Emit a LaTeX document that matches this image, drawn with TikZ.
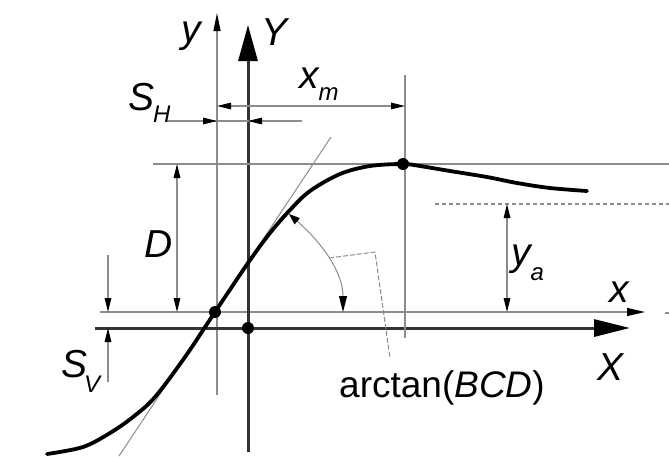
\documentclass[tikz,border=0pt]{standalone}
\usepackage{fontspec}
\setmainfont{Liberation Sans}
\usetikzlibrary{arrows.meta}
\definecolor{linegray}{HTML}{8C8C8C}
\definecolor{axisdark}{HTML}{333333}
\newcommand{\lblfont}{\fontsize{39}{40}\selectfont\itshape}
\newcommand{\subfont}{\fontsize{24}{25}\selectfont\itshape}
\tikzset{
  thin/.style={draw=linegray, line width=1.3pt},
  dimarrow/.style={thin, -{Triangle[length=14pt,width=6.5pt,color=black,fill=black]}},
  dimboth/.style={thin, {Triangle[length=14pt,width=6.5pt,color=black,fill=black]}-{Triangle[length=14pt,width=6.5pt,color=black,fill=black]}},
  lbl/.style={anchor=base west, inner sep=0pt, outer sep=0pt, font=\lblfont},
  dot/.style={circle, fill=black, inner sep=0pt, minimum size=12pt},
}
\begin{document}
\begin{tikzpicture}[x=1pt,y=-1pt]
\useasboundingbox (0,0) rectangle (669,456);
\clip (0,0) rectangle (669,456);
% key coordinates
\coordinate (zero) at (215,312);
\coordinate (orig) at (248,328);
\coordinate (peak) at (403,164);
% thin axes
\coordinate (ytop) at (217,13);
\coordinate (ybot) at (217,395);
\coordinate (xleft) at (100,312);
\coordinate (xright) at (645,312);
\draw[thin, -{Triangle[length=18pt,width=7pt,color=black,fill=black]}] (ybot) -- (ytop);
\draw[thin, -{Triangle[length=18pt,width=8pt,color=black,fill=black]}] (xleft) -- (xright);
\coordinate (dashA) at (665,313);
\coordinate (dashB) at (669,313);
\draw[thin] (dashA) -- (dashB);
% thick axes
\coordinate (Ytop) at (248,25);
\coordinate (Ybot) at (248,452);
\coordinate (Xleft) at (95,328);
\coordinate (Xright) at (630,328);
\draw[draw=axisdark, line width=3pt, -{Triangle[length=36pt,width=19pt,color=black,fill=black]}] (Ybot) -- (Ytop);
\draw[draw=axisdark, line width=3pt, -{Triangle[length=36pt,width=17pt,color=black,fill=black]}] (Xleft) -- (Xright);
% extension lines
\coordinate (peakL) at (153,164);
\coordinate (peakR) at (669,164);
\draw[thin] (peakL) -- (peakR);
\coordinate (vmT) at (405,75);
\coordinate (vmB) at (405,338);
\draw[thin] (vmT) -- (vmB);
\coordinate (yaL) at (435,204);
\coordinate (yaR) at (669,204);
\draw[thin, dashed, dash pattern=on 4pt off 3pt] (yaL) -- (yaR);
% tangent line
\coordinate (tanB) at (119,456);
\coordinate (tanT) at (331,137);
\draw[thin, line width=1pt] (tanB) -- (tanT);
% S_H dimension
\coordinate (shL) at (167,121);
\coordinate (shR) at (302,121);
\coordinate (shA) at (217,121);
\coordinate (shB) at (248,121);
\draw[thin] (shL) -- (shR);
\draw[dimarrow] (shL) -- (shA);
\draw[dimarrow] (shR) -- (shB);
% x_m dimension
\coordinate (xmL) at (217,106);
\coordinate (xmR) at (405,106);
\draw[dimboth] (xmL) -- (xmR);
% D dimension
\coordinate (dT) at (177,164);
\coordinate (dB) at (177,312);
\draw[dimboth] (dT) -- (dB);
% y_a dimension
\coordinate (yaT) at (507,204);
\coordinate (yaB) at (507,312);
\draw[dimboth] (yaT) -- (yaB);
% S_V dimension
\coordinate (svT0) at (108,255);
\coordinate (svT) at (108,312);
\coordinate (svB0) at (108,382);
\coordinate (svB) at (108,328);
\draw[dimarrow] (svT0) -- (svT);
\draw[dimarrow] (svB0) -- (svB);
% curve
\draw[line width=3.8pt, line cap=round, line join=round] plot[smooth, tension=0.55] coordinates {
 (47,454) (83,447) (110,433) (133,417) (155,397) (185,357) (215,312) (248,263)
 (270,233) (290,210) (310,191) (340,174) (370,166) (403,164) (420,166) (450,171) (487,177)
 (517,183) (550,188) (587,191)};
% angle arc
\coordinate (arcS) at (289,214);
\coordinate (arcE) at (343,312);
\draw[thin, line width=1pt, {Triangle[length=11pt,width=8pt,color=black,fill=black]}-{Triangle[length=16pt,width=8pt,color=black,fill=black]}]
  (arcS) .. controls (322,243) and (343,272) .. (arcE);
% leader
\coordinate (ldA) at (329,258);
\coordinate (ldB) at (375,252);
\coordinate (ldC) at (390,358);
\draw[thin, line width=1pt, dashed, dash pattern=on 5pt off 2pt] (ldA) -- (ldB) -- (ldC);
% dots
\node[dot] (dzero) at (zero) {};
\node[dot] (dorig) at (orig) {};
\node[dot] (dpeak) at (peak) {};
% labels
\node[lbl] (ly) at (181,42) {y};
\node[lbl] (lY) at (261,45) {Y};
\node[lbl] (lSH) at (128,110) {S\kern-1pt\raisebox{-12pt}{\subfont H}};
\node[lbl] (lxm) at (299,88) {x\raisebox{-12pt}{\subfont m}};
\node[lbl] (lD) at (144,257) {D};
\node[lbl] (lya) at (511,265) {y\raisebox{-15pt}{\subfont a}};
\node[lbl] (lx) at (609,302) {x};
\node[lbl] (lX) at (597,380) {X};
\node[lbl] (lSV) at (61,377) {S\kern-3pt\raisebox{-15pt}{\subfont V}};
\node[anchor=base west, inner sep=0pt, font=\fontsize{37}{38}\selectfont] (larc) at (339,397) {arctan(\textit{BCD})};
\end{tikzpicture}
\end{document}
